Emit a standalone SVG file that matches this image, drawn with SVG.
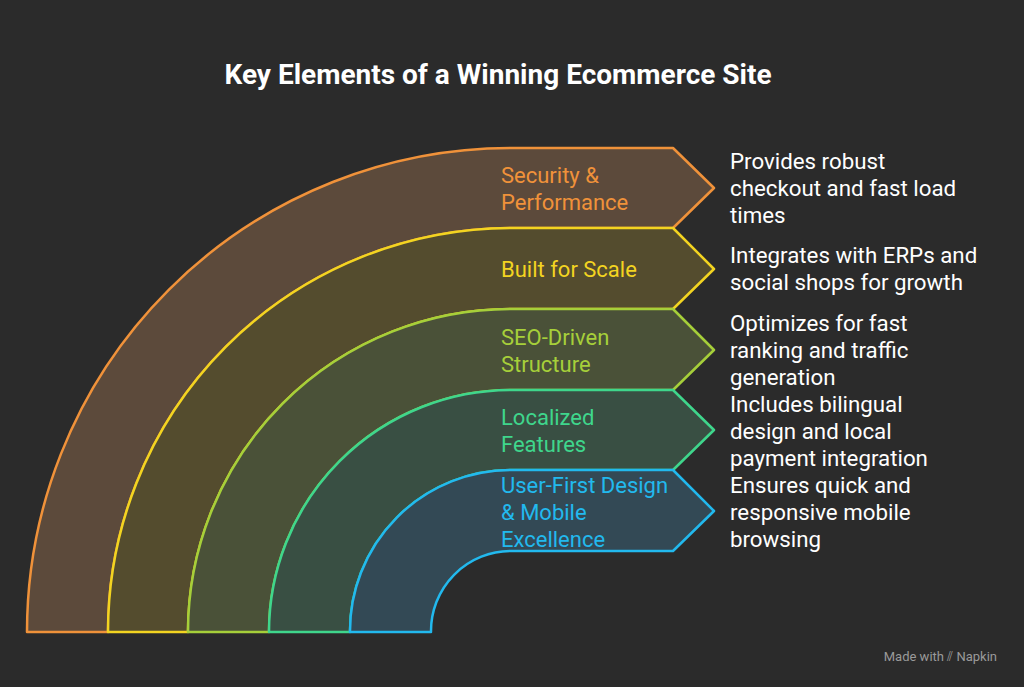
<svg xmlns="http://www.w3.org/2000/svg" width="1024" height="687" viewBox="0 0 1024 687">
<style>
.band{stroke-width:2.5;stroke-linejoin:round}
.lbl{font-family:Roboto,"Liberation Sans",sans-serif;font-size:22px}
.desc{font-family:Roboto,"Liberation Sans",sans-serif;font-size:22.3px;fill:#ffffff}
</style>
<rect width="1024" height="687" fill="#2b2b2b"/>
<text x="498" y="84" text-anchor="middle" font-family="Roboto,'Liberation Sans',sans-serif" font-size="28" font-weight="bold" fill="#ffffff">Key Elements of a Winning Ecommerce Site</text>
<g id="connectors"></g>
<g id="band1">
<path class="band" d="M27,632 A484,484 0 0 1 511,148 L673,148 L714,188 L673,228 L511,228 A404,404 0 0 0 108,632 Z" fill="#5c4a3b" stroke="#f0923a"/>
<text class="lbl" fill="#f0923a"><tspan x="501" y="183">Security &amp;</tspan><tspan x="501" y="210">Performance</tspan></text>
<text class="desc"><tspan x="730" y="169">Provides robust</tspan><tspan x="730" y="196">checkout and fast load</tspan><tspan x="730" y="223">times</tspan></text>
</g>
<g id="band2">
<path class="band" d="M108,632 A404,404 0 0 1 511,228 L673,228 L714,269 L673,309 L511,309 A323,323 0 0 0 188,632 Z" fill="#544c2e" stroke="#f3d421"/>
<text class="lbl" fill="#f3d421" x="501" y="277">Built for Scale</text>
<text class="desc"><tspan x="730" y="263">Integrates with ERPs and</tspan><tspan x="730" y="290">social shops for growth</tspan></text>
</g>
<g id="band3">
<path class="band" d="M188,632 A323,323 0 0 1 511,309 L673,309 L714,350 L673,390 L511,390 A242,242 0 0 0 269,632 Z" fill="#4a5138" stroke="#a6cf3a"/>
<text class="lbl" fill="#a6cf3a"><tspan x="501" y="345">SEO-Driven</tspan><tspan x="501" y="372">Structure</tspan></text>
<text class="desc"><tspan x="730" y="331">Optimizes for fast</tspan><tspan x="730" y="358">ranking and traffic</tspan><tspan x="730" y="385">generation</tspan></text>
</g>
<g id="band4">
<path class="band" d="M269,632 A242,242 0 0 1 511,390 L673,390 L714,430 L673,470 L511,470 A161,161 0 0 0 350,632 Z" fill="#394f43" stroke="#3fd68c"/>
<text class="lbl" fill="#3fd68c"><tspan x="501" y="425">Localized</tspan><tspan x="501" y="452">Features</tspan></text>
<text class="desc"><tspan x="730" y="412">Includes bilingual</tspan><tspan x="730" y="439">design and local</tspan><tspan x="730" y="466">payment integration</tspan></text>
</g>
<g id="band5">
<path class="band" d="M350,632 A161,161 0 0 1 511,470 L673,470 L714,511 L673,551 L511,551 A80,80 0 0 0 431,632 Z" fill="#334955" stroke="#22b9ee"/>
<text class="lbl" fill="#22b9ee"><tspan x="501" y="493">User-First Design</tspan><tspan x="501" y="520">&amp; Mobile</tspan><tspan x="501" y="547">Excellence</tspan></text>
<text class="desc"><tspan x="730" y="493">Ensures quick and</tspan><tspan x="730" y="520">responsive mobile</tspan><tspan x="730" y="547">browsing</tspan></text>
</g>
<text x="997" y="661" text-anchor="end" font-family="Roboto,'Liberation Sans',sans-serif" font-size="13" fill="#9a9a9a">Made with  ⫽ Napkin</text>
</svg>
